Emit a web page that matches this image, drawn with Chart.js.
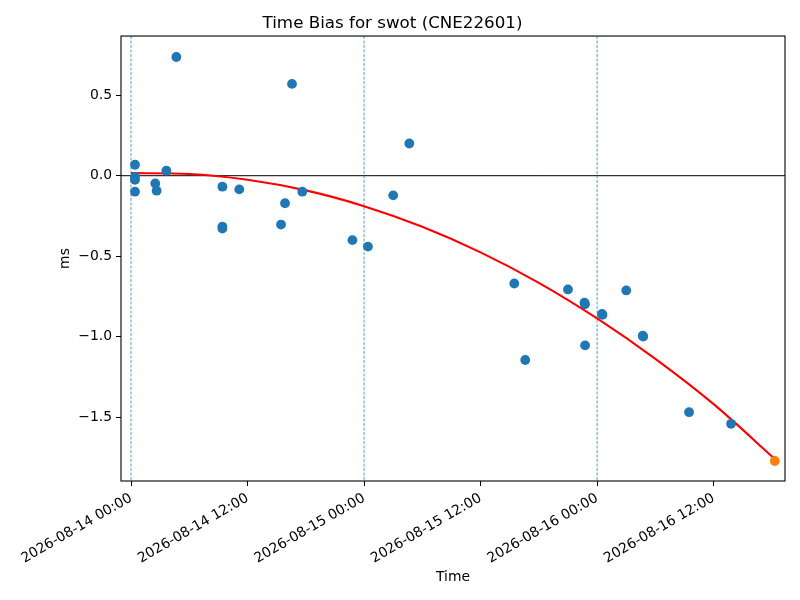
<!DOCTYPE html>
<html lang="en">

<head>
    <meta charset="UTF-8">
    <title>Time Bias for swot</title>
    <script src="https://cdn.jsdelivr.net/npm/chart.js"></script>
    <style>
        * {
            margin: 0;
            padding: 0;
            box-sizing: border-box;
        }

        body {
            background-color: #ffffff;
            width: 800px;
            height: 600px;
            overflow: hidden;
        }

        #box {
            position: relative;
            width: 800px;
            height: 600px;
        }
    </style>
</head>

<body>
    <div id="box"><canvas id="biasChart"></canvas></div>

    <script>
        // hours since 2026-08-14 00:00 and measured time bias (ms)
        const sampleHours = [0.41, 0.41, 0.41, 0.41, 2.5, 2.64, 3.64, 4.67, 9.41, 9.41, 9.41, 11.15,
            15.45, 15.86, 16.58, 17.64, 22.8, 24.4, 27.0, 28.66,
            39.47, 40.6, 45.0, 46.7, 46.75, 46.76, 48.5, 48.55, 51.0, 52.7, 52.75, 57.47, 61.8];
        const biasMs = [0.068, -0.008, -0.025, -0.099, -0.048, -0.093, 0.031, 0.737, -0.068, -0.316, -0.328, -0.085,
            -0.303, -0.171, 0.570, -0.099, -0.400, -0.440, -0.122, 0.200,
            -0.669, -1.144, -0.706, -0.788, -0.798, -1.053, -0.858, -0.864, -0.712, -0.993, -0.998, -1.468, -1.540];

        // latest point (orange)
        const lastHour = [66.3];
        const lastMs = [-1.771];

        // red fitted curve
        const fitHours = [0, 6, 12, 18, 24, 30, 36, 42, 48, 54, 60, 66.3];
        const fitMs = [0.016, 0.011, -0.025, -0.091, -0.189, -0.317, -0.476, -0.665, -0.886, -1.137, -1.418, -1.758];

        // day boundaries (dashed lines)
        const midnights = [0, 24, 48];

        // axis ticks
        const xTicks = [0, 12, 24, 36, 48, 60];
        const xTickLabels = ['2026-08-14 00:00', '2026-08-14 12:00', '2026-08-15 00:00',
            '2026-08-15 12:00', '2026-08-16 00:00', '2026-08-16 12:00'];
        const yTicks = [-1.5, -1.0, -0.5, 0.0, 0.5];

        Chart.defaults.font.family = "'DejaVu Sans', sans-serif";
        Chart.defaults.font.size = 13.9;
        Chart.defaults.color = '#000000';

        // dashed midnight lines, zero line and the axes frame
        const refLines = {
            id: 'refLines',
            beforeDatasetsDraw(chart) {
                const { ctx, chartArea: a, scales: { x, y } } = chart;
                ctx.save();
                ctx.beginPath();
                ctx.rect(a.left, a.top, a.right - a.left, a.bottom - a.top);
                ctx.clip();
                ctx.strokeStyle = 'rgba(31, 119, 180, 0.9)';
                ctx.lineWidth = 0.8;
                ctx.setLineDash([3, 1.5]);
                midnights.forEach(m => {
                    const px = x.getPixelForValue(m);
                    ctx.beginPath();
                    ctx.moveTo(px, a.top);
                    ctx.lineTo(px, a.bottom);
                    ctx.stroke();
                });
                ctx.setLineDash([]);
                ctx.strokeStyle = '#000000';
                ctx.lineWidth = 1;
                const py = y.getPixelForValue(0);
                ctx.beginPath();
                ctx.moveTo(a.left, py);
                ctx.lineTo(a.right, py);
                ctx.stroke();
                ctx.restore();
            },
            afterDraw(chart) {
                const { ctx, chartArea: a } = chart;
                ctx.save();
                ctx.strokeStyle = '#000000';
                ctx.lineWidth = 1.1;
                ctx.strokeRect(a.left, a.top, a.right - a.left, a.bottom - a.top);
                ctx.restore();
            }
        };

        const ctx = document.getElementById('biasChart').getContext('2d');

        new Chart(ctx, {
            type: 'scatter',
            data: {
                datasets: [
                    {
                        label: 'bias',
                        data: sampleHours.map((h, i) => ({ x: h, y: biasMs[i] })),
                        backgroundColor: '#1f77b4',
                        borderWidth: 0,
                        pointRadius: 4.9,
                        pointHoverRadius: 4.9,
                        order: 1
                    },
                    {
                        label: 'fit',
                        type: 'line',
                        data: fitHours.map((h, i) => ({ x: h, y: fitMs[i] })),
                        borderColor: '#ff0000',
                        borderWidth: 2.1,
                        pointRadius: 0,
                        fill: false,
                        cubicInterpolationMode: 'monotone',
                        order: 2
                    },
                    {
                        label: 'latest',
                        data: lastHour.map((h, i) => ({ x: h, y: lastMs[i] })),
                        backgroundColor: '#ff7f0e',
                        borderWidth: 0,
                        pointRadius: 4.9,
                        pointHoverRadius: 4.9,
                        order: 0
                    }
                ]
            },
            options: {
                responsive: true,
                maintainAspectRatio: false,
                animation: false,
                layout: {
                    padding: { left: 0, right: 15, top: 0, bottom: 0 }
                },
                plugins: {
                    legend: { display: false },
                    tooltip: { enabled: false },
                    title: {
                        display: true,
                        text: 'Time Bias for swot (CNE22601)',
                        color: '#000000',
                        font: { size: 16.7, weight: 'normal' },
                        padding: { top: 14, bottom: 2 }
                    }
                },
                scales: {
                    x: {
                        type: 'linear',
                        min: -1.03,
                        max: 67.35,
                        afterBuildTicks: s => { s.ticks = xTicks.map(v => ({ value: v })); },
                        afterFit: s => { s.height = 119; },
                        ticks: {
                            autoSkip: false,
                            minRotation: 30,
                            maxRotation: 30,
                            padding: 4,
                            callback: v => xTickLabels[xTicks.indexOf(v)]
                        },
                        grid: {
                            drawOnChartArea: false,
                            drawTicks: true,
                            tickLength: 5,
                            color: '#000000'
                        },
                        border: { display: false },
                        title: {
                            display: true,
                            text: 'Time',
                            padding: { top: 4, bottom: 14 }
                        }
                    },
                    y: {
                        min: -1.895,
                        max: 0.867,
                        afterBuildTicks: s => { s.ticks = yTicks.map(v => ({ value: v })); },
                        afterFit: s => { s.width = 121; },
                        ticks: {
                            padding: 4,
                            callback: v => v.toFixed(1).replace('-', '\u2212')
                        },
                        grid: {
                            drawOnChartArea: false,
                            drawTicks: true,
                            tickLength: 5,
                            color: '#000000'
                        },
                        border: { display: false },
                        title: {
                            display: true,
                            text: 'ms',
                            padding: { top: 57, bottom: 0 }
                        }
                    }
                }
            },
            plugins: [refLines]
        });
    </script>
</body>

</html>
